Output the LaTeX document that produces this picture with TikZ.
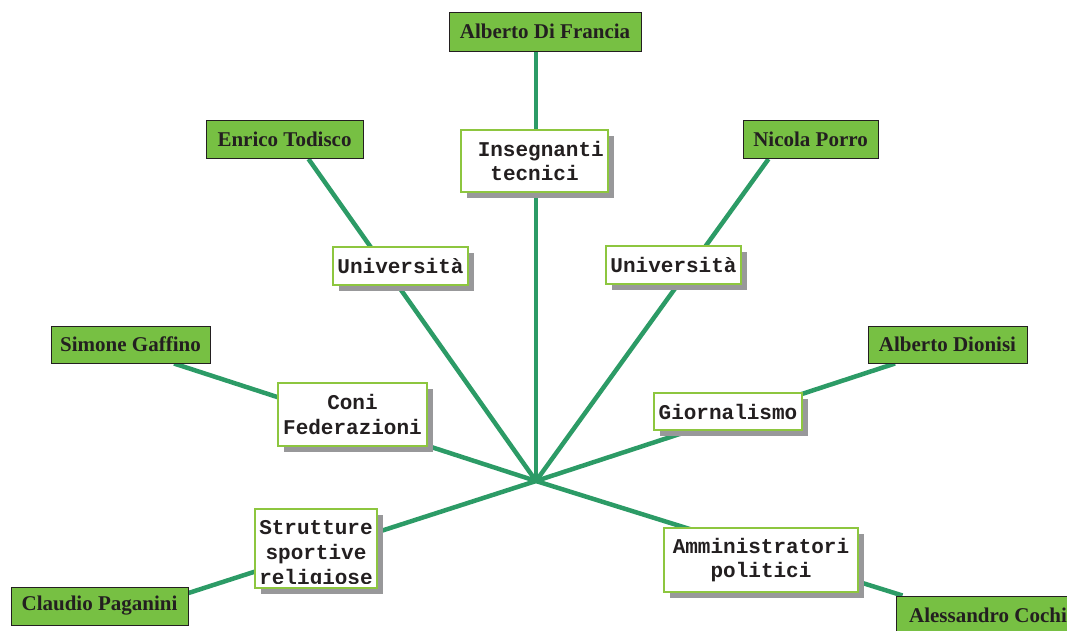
\documentclass[tikz,border=0pt]{standalone}
\usepackage{fontspec}
\setmainfont{Liberation Serif}
\setmonofont{Liberation Mono}
\usetikzlibrary{shadows}
\definecolor{namegreen}{RGB}{119,192,67}
\definecolor{boxgreen}{RGB}{141,198,63}
\definecolor{linkgreen}{RGB}{44,155,102}
\definecolor{shadowgray}{RGB}{152,152,154}
\definecolor{textdark}{RGB}{35,31,32}
\pgfdeclarelayer{bg}
\pgfsetlayers{bg,main}
\begin{document}
\begin{tikzpicture}[x=1pt,y=-1pt,
  namebox/.style={draw=textdark, line width=1pt, fill=namegreen, inner sep=0pt,
    font=\fontsize{21}{24}\selectfont\bfseries, text=textdark},
  labelbox/.style={draw=boxgreen, line width=2pt, fill=white, inner sep=0pt,
    align=center, font=\fontsize{21}{24.5}\selectfont\ttfamily\bfseries, text=textdark,
    general shadow={fill=shadowgray, shadow xshift=6pt, shadow yshift=-6pt}},
  labeltext/.style={inner sep=0pt, align=center,
    font=\fontsize{21}{25}\selectfont\ttfamily\bfseries, text=textdark},
  link/.style={draw=linkgreen, line width=4.5pt}]
\useasboundingbox (0,0) rectangle (1067,630);
\clip (0,0) rectangle (1067,630);

% name boxes
\node[namebox, minimum width=192pt, minimum height=39pt] (ADF) at (545,31.5) {Alberto Di Francia};
\node[namebox, minimum width=157pt, minimum height=38pt] (ET) at (284.5,139.5) {Enrico Todisco};
\node[namebox, minimum width=135pt, minimum height=38pt] (NP) at (810.5,139.5) {Nicola Porro};
\node[namebox, minimum width=159pt, minimum height=37pt] (SG) at (130.5,344.5) {Simone Gaffino};
\node[namebox, minimum width=159pt, minimum height=37pt] (AD) at (947.5,344.5) {Alberto Dionisi};
\node[namebox, minimum width=177pt, minimum height=38pt] (CP) at (99.5,606) {Claudio Paganini};
\node[namebox, minimum width=184pt, minimum height=38pt] (AC) at (988,615) {Alessandro Cochi};

% label boxes
\node[labelbox, minimum width=147pt, minimum height=62pt] (IT) at (534.5,161) {\hphantom{I}Insegnanti\\tecnici};
\node[labelbox, minimum width=135pt, minimum height=38pt] (UL) at (400.5,266) {Università};
\node[labelbox, minimum width=135pt, minimum height=38pt] (UR) at (673.5,265) {Università};
\node[labelbox, minimum width=149pt, minimum height=63pt] (CF) at (352.5,414.5) {Coni\\Federazioni};
\node[labelbox, minimum width=148pt, minimum height=37pt] (GI) at (728,411.5) {Giornalismo};
\node[labelbox, minimum width=122pt, minimum height=79pt] (SS) at (316,548.5) {};
\node[labelbox, minimum width=194pt, minimum height=64pt] (AP) at (761,560) {Amministratori\\politici};
\begin{scope}
  \clip ([xshift=1pt,yshift=-1pt]SS.north west) rectangle ([xshift=-1pt,yshift=6pt]SS.south east);
  \node[labeltext] (SStext) at (316,555) {Strutture\\sportive\\religiose};
\end{scope}

% connectors
\coordinate (hub) at (536,481);
\begin{pgfonlayer}{bg}
  \draw[link] (hub) -- (ADF.south -| hub);
  \draw[link] (hub) -- ([xshift=24pt]ET.south);
  \draw[link] (hub) -- ([xshift=-42pt]NP.south);
  \draw[link] (hub) -- ([xshift=43.5pt]SG.south);
  \draw[link] (hub) -- ([xshift=-52.5pt]AD.south);
  \draw[link] (hub) -- ([yshift=13pt]CP.east);
  \draw[link] (hub) -- ([xshift=7pt]AC.north west);
\end{pgfonlayer}
\end{tikzpicture}
\end{document}
